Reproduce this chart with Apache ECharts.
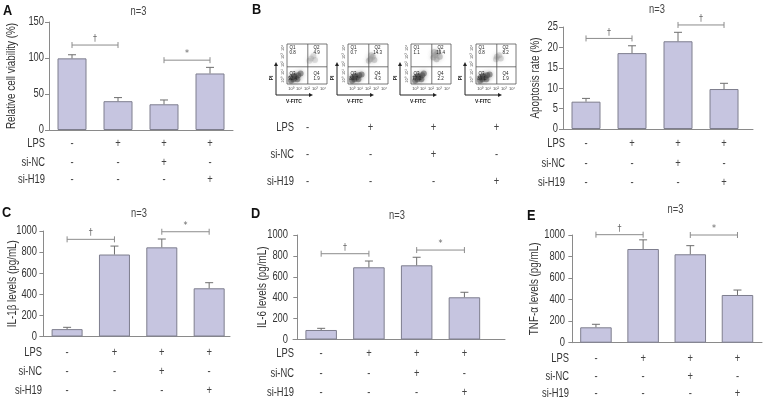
<!DOCTYPE html>
<html><head><meta charset="utf-8">
<script src="https://cdn.jsdelivr.net/npm/echarts@6/dist/echarts.min.js"></script>
<style>html,body{margin:0;padding:0;background:#fff}#c{width:764px;height:403px}</style>
</head><body><div id="c"></div>
<script>
// ---------- data ----------
const groups = ['Control', 'LPS', 'LPS+si-NC', 'LPS+si-H19'];
const rowNames = ['LPS', 'si-NC', 'si-H19'];
const lpsRow = ['-', '+', '+', '+'];
const siNCRow = ['-', '-', '+', '-'];
const siH19Row = ['-', '-', '-', '+'];

const viabilityMean = [99.5, 40, 35.7, 78.5];
const viabilitySD = [5, 5, 6, 8.5];
const apoptosisMean = [6.7, 18.6, 21.5, 9.8];
const apoptosisSD = [0.8, 1.8, 2.2, 1.4];
const il1bMean = [70, 777, 845, 457];
const il1bSD = [17, 80, 79, 53];
const il6Mean = [91, 691, 710, 404];
const il6SD = [16, 60, 77, 48];
const tnfMean = [143, 870, 821, 443];
const tnfSD = [28, 85, 80, 46];

// significance brackets: [group a, group b, height, mark]
const viabilitySig = [[0, 1, 118, '†'], [2, 3, 97, '*']];
const apoptosisSig = [[0, 1, 22.2, '†'], [2, 3, 25.5, '†']];
const il1bSig = [[0, 1, 921, '†'], [2, 3, 993, '*']];
const il6Sig = [[0, 1, 821, '†'], [2, 3, 856, '*']];
const tnfSig = [[0, 1, 1003, '†'], [2, 3, 1000, '*']];

// flow cytometry quadrant percentages [Q1, Q2, Q3, Q4]
const flowQuadrants = [[0.8, 4.9, 92.4, 1.9], [0.7, 14.3, 80.7, 4.3], [1.1, 19.4, 77.3, 2.2], [0.8, 8.2, 89.1, 1.9]];
// event clouds (log-decade coordinates)
const flowDense = [
  [[0.5,0.4],[0.8,0.6],[1.1,0.8],[1.4,1.1],[0.9,1.0],[1.3,0.6],[0.6,0.8],[1.7,1.3]],
  [[0.5,0.4],[0.8,0.6],[1.1,0.8],[1.4,1.1],[0.9,1.0],[1.3,0.6],[0.6,0.8],[1.7,1.2]],
  [[0.5,0.4],[0.8,0.6],[1.1,0.8],[1.4,1.1],[0.9,1.0],[1.3,0.6],[0.6,0.8],[1.6,1.3]],
  [[0.5,0.4],[0.8,0.6],[1.1,0.8],[1.4,1.1],[0.9,1.0],[1.3,0.6],[0.6,0.8],[1.7,1.2]]
];
const flowSpread = [
  [[3.0,3.2],[3.3,3.5],[2.8,2.9],[3.5,3.0]],
  [[2.8,3.1],[3.1,3.4],[2.6,2.9],[3.3,3.0],[2.9,3.6]],
  [[3.0,3.6],[3.3,3.9],[2.8,3.3],[3.6,3.4],[3.2,3.1],[2.9,4.0]],
  [[2.6,3.4],[2.9,3.6],[2.5,3.1],[3.1,3.2]]
];
const decadeLabels = ['10⁰', '10¹', '10²', '10³', '10⁴'];

// ---------- style / layout ----------
const FONT = "'Liberation Sans', Arial, sans-serif";
const SQ = 0.78;          // horizontal condensing of text
const FS = 12;
const TXT = '#333';
const AXIS = '#8a8a8a';
const BAR = '#c6c5e0';
const BAR_EDGE = '#7e7e8e';
const rows = [lpsRow, siNCRow, siH19Row];

function tx(x, y, text, o) {
  o = o || {};
  return { type: 'text', x: x, y: y, rotation: o.rot || 0, scaleX: o.sx || SQ, scaleY: 1,
    style: { text: text, fill: o.fill || TXT, fontSize: o.size || FS, fontWeight: o.weight || 'normal',
      fontFamily: o.family || FONT, align: o.align || 'center', verticalAlign: o.va || 'middle' } };
}

const panels = [
  { mean: viabilityMean, sd: viabilitySD, sig: viabilitySig, name: 'Relative cell viability (%)',
    grid: { left: 49, top: 22, width: 184, height: 108 }, xMin: 0, xMax: 4, yMax: 150, interval: 50,
    nameDx: 37.5, barWidth: 29, rowOff: [14, 33, 49.5], labelDx: -4 },
  { mean: apoptosisMean, sd: apoptosisSD, sig: apoptosisSig, name: 'Apoptosis rate (%)',
    grid: { left: 563, top: 27, width: 190, height: 102 }, xMin: 0, xMax: 4.13, yMax: 25, interval: 5,
    nameDx: 27, barWidth: 29, rowOff: [15, 35, 54], labelDx: 2 },
  { mean: il1bMean, sd: il1bSD, sig: il1bSig, name: 'IL-1β levels (pg/mL)',
    grid: { left: 42, top: 231, width: 188, height: 105.5 }, xMin: -0.03, xMax: 3.94, yMax: 1000, interval: 200,
    nameDx: 29, barWidth: 31, rowOff: [16.5, 35.5, 54.5], labelDx: 0 },
  { mean: il6Mean, sd: il6SD, sig: il6Sig, name: 'IL-6 levels (pg/mL)',
    grid: { left: 293, top: 235, width: 212, height: 104.5 }, xMin: -0.09, xMax: 4.35, yMax: 1000, interval: 200,
    nameDx: 30, barWidth: 31.5, rowOff: [14.5, 34.5, 53.5], labelDx: 1 },
  { mean: tnfMean, sd: tnfSD, sig: tnfSig, name: 'TNF-α levels (pg/mL)',
    grid: { left: 570, top: 235, width: 192, height: 107.7 }, xMin: -0.05, xMax: 4.02, yMax: 1000, interval: 200,
    nameDx: 35, barWidth: 31.5, rowOff: [16.3, 34.3, 51.3], labelDx: -1 }
];
const flowLefts = [287, 348, 411, 476];

const grids = [], xAxes = [], yAxes = [], series = [];

function condSeries(gi, xMin, rowOff, labelDx, cfg) {
  return {
    type: 'custom', xAxisIndex: gi, yAxisIndex: gi, clip: false, silent: true, z: 5,
    data: groups.map((g, i) => [i + 0.5, 0]),
    renderItem: function (params, api) {
      const p = api.coord([api.value(0), api.value(1)]);
      const children = [];
      const i = params.dataIndex;
      rows.forEach((r, k) => children.push(tx(p[0], p[1] + rowOff[k], r[i], { fill: '#444' })));
      if (i === 0) {
        const ax = api.coord([xMin, 0])[0];
        rowNames.forEach((n, k) => children.push(tx(ax + labelDx, p[1] + rowOff[k], n, { align: 'right' })));
        if (cfg) {
          for (let v = 0; v <= cfg.yMax + 1e-9; v += cfg.interval) {
            const q = api.coord([xMin, v]);
            children.push(tx(q[0] - 5, q[1], String(v), { align: 'right' }));
          }
          const top = api.coord([xMin, cfg.yMax])[1];
          children.push(tx(ax - cfg.nameDx, (top + p[1]) / 2, cfg.name, { rot: Math.PI / 2, sx: 0.82 }));
        }
      }
      return { type: 'group', children };
    }
  };
}

panels.forEach((cfg, gi) => {
  grids.push(Object.assign({ containLabel: false }, cfg.grid));
  xAxes.push({ type: 'value', gridIndex: gi, min: cfg.xMin, max: cfg.xMax,
    axisLine: { show: true, lineStyle: { color: AXIS, width: 1 } }, axisTick: { show: false },
    axisLabel: { show: false }, splitLine: { show: false } });
  yAxes.push({ type: 'value', gridIndex: gi, min: 0, max: cfg.yMax, interval: cfg.interval,
    axisLine: { show: true, lineStyle: { color: AXIS, width: 1 } },
    axisTick: { show: true, length: 4, lineStyle: { color: AXIS } },
    axisLabel: { show: false },
    splitLine: { show: false } });
  series.push({ type: 'bar', xAxisIndex: gi, yAxisIndex: gi, barWidth: cfg.barWidth, silent: true,
    data: cfg.mean.map((v, i) => [i + 0.5, v]),
    itemStyle: { color: BAR, borderColor: BAR_EDGE, borderWidth: 1 } });
  series.push({ type: 'custom', xAxisIndex: gi, yAxisIndex: gi, clip: false, silent: true, z: 4,
    data: cfg.mean.map((v, i) => [i + 0.5, v, cfg.sd[i]]),
    renderItem: function (params, api) {
      const x = api.value(0), m = api.value(1), s = api.value(2);
      const a = api.coord([x, m]), b = api.coord([x, m + s]);
      const st = { stroke: '#6e6e6e', lineWidth: 1 };
      return { type: 'group', children: [
        { type: 'line', shape: { x1: a[0], y1: a[1], x2: b[0], y2: b[1] }, style: st },
        { type: 'line', shape: { x1: b[0] - 4, y1: b[1], x2: b[0] + 4, y2: b[1] }, style: st }
      ] };
    } });
  const sig = cfg.sig;
  series.push({ type: 'custom', xAxisIndex: gi, yAxisIndex: gi, clip: false, silent: true, z: 4,
    data: sig.map(s => [s[0] + 0.5, s[2], s[1] + 0.5]),
    encode: { x: [0, 2], y: 1 },
    renderItem: function (params, api) {
      const a = api.coord([api.value(0), api.value(1)]);
      const b = api.coord([api.value(2), api.value(1)]);
      const st = { stroke: '#8c8c8c', lineWidth: 1 };
      return { type: 'group', children: [
        { type: 'line', shape: { x1: a[0], y1: a[1], x2: b[0], y2: b[1] }, style: st },
        { type: 'line', shape: { x1: a[0], y1: a[1] - 3, x2: a[0], y2: a[1] + 3 }, style: st },
        { type: 'line', shape: { x1: b[0], y1: b[1] - 3, x2: b[0], y2: b[1] + 3 }, style: st },
        tx((a[0] + b[0]) / 2, a[1] - 6, sig[params.dataIndex][3], { fill: '#666', size: 8, family: 'DejaVu Sans', sx: 1 })
      ] };
    } });
  series.push(condSeries(gi, cfg.xMin, cfg.rowOff, cfg.labelDx, cfg));
});

// hidden grid for the condition rows under the flow plots (grid 5)
grids.push({ left: 276, top: 100, width: 252, height: 10 });
xAxes.push({ type: 'value', gridIndex: 5, min: 0, max: 4, show: false });
yAxes.push({ type: 'value', gridIndex: 5, min: 0, max: 1, show: false });
series.push(condSeries(5, 0, [18, 45, 72], 18, null));

// flow cytometry plots (grids 6..9)
flowLefts.forEach((left, k) => {
  const gi = 6 + k;
  grids.push({ left: left, top: 44, width: 40, height: 40, show: true, borderColor: '#555', borderWidth: 0.8, backgroundColor: '#fff' });
  xAxes.push({ type: 'value', gridIndex: gi, min: 0, max: 5, show: false });
  yAxes.push({ type: 'value', gridIndex: gi, min: 0, max: 5, show: false });
  series.push({ type: 'scatter', xAxisIndex: gi, yAxisIndex: gi, silent: true, symbolSize: 6,
    data: flowSpread[k],
    itemStyle: { color: 'rgba(150,150,150,' + (0.25 + flowQuadrants[k][1] / 60) + ')', shadowBlur: 4, shadowColor: 'rgba(120,120,120,0.5)' } });
  series.push({ type: 'scatter', xAxisIndex: gi, yAxisIndex: gi, silent: true, symbolSize: 6,
    data: flowDense[k],
    itemStyle: { color: 'rgba(70,70,70,0.6)', shadowBlur: 4, shadowColor: 'rgba(60,60,60,0.6)' } });
  const q = flowQuadrants[k];
  series.push({ type: 'custom', xAxisIndex: gi, yAxisIndex: gi, clip: false, silent: true, z: 6,
    data: [[0, 0]],
    renderItem: function (params, api) {
      const c = (x, y) => api.coord([x, y]);
      const ch = [];
      const ln = { stroke: '#555', lineWidth: 0.8 };
      const v1 = c(2.6, 0), v2 = c(2.6, 5), h1 = c(0, 2.15), h2 = c(5, 2.15);
      ch.push({ type: 'line', shape: { x1: v1[0], y1: v1[1], x2: v2[0], y2: v2[1] }, style: ln });
      ch.push({ type: 'line', shape: { x1: h1[0], y1: h1[1], x2: h2[0], y2: h2[1] }, style: ln });
      const qt = (x, y, t) => { const p = c(x, y); ch.push(tx(p[0], p[1], t, { size: 4.5, fill: '#222', sx: 1 })); };
      qt(0.7, 4.55, 'Q1'); qt(0.7, 3.95, String(q[0]));
      qt(3.7, 4.55, 'Q2'); qt(3.7, 3.95, String(q[1]));
      qt(0.7, 1.25, 'Q3'); qt(0.7, 0.7, String(q[2]));
      qt(3.7, 1.25, 'Q4'); qt(3.7, 0.7, String(q[3]));
      const o = c(0, 0);
      decadeLabels.forEach((t, d) => {
        const px = c(d + 0.5, 0), py = c(0, d + 0.5);
        ch.push(tx(px[0], o[1] + 4.5, t, { size: 4, fill: '#444', sx: 1 }));
        ch.push(tx(o[0] - 4, py[1], t, { size: 4, fill: '#444', sx: 1, rot: Math.PI / 2 }));
      });
      // axis arrows
      const ax = o[0] - 11, ay = o[1] + 11;
      const ar = { stroke: '#222', lineWidth: 1 };
      ch.push({ type: 'line', shape: { x1: ax, y1: ay, x2: ax, y2: ay - 30 }, style: ar });
      ch.push({ type: 'polygon', shape: { points: [[ax - 2, ay - 29], [ax + 2, ay - 29], [ax, ay - 33]] }, style: { fill: '#222' } });
      ch.push({ type: 'line', shape: { x1: ax, y1: ay, x2: ax + 34, y2: ay }, style: ar });
      ch.push({ type: 'polygon', shape: { points: [[ax + 33, ay - 2], [ax + 33, ay + 2], [ax + 37, ay]] }, style: { fill: '#222' } });
      ch.push(tx(ax - 4, o[1] - 6, 'PI', { size: 5, weight: 'bold', fill: '#222', sx: 1, rot: Math.PI / 2 }));
      ch.push(tx(o[0] + 7, ay + 7, 'V-FITC', { size: 5, weight: 'bold', fill: '#222', sx: 1 }));
      return { type: 'group', children: ch };
    } });
});

const letter = (t, x, y) => tx(x, y, t, { size: 15, weight: 'bold', fill: '#111', align: 'left', sx: 0.85 });
const nText = (x, y) => tx(x, y, 'n=3', { fill: '#444' });

const chart = echarts.init(document.getElementById('c'), null, { renderer: 'canvas' });
chart.setOption({
  backgroundColor: '#fff',
  animation: false,
  grid: grids, xAxis: xAxes, yAxis: yAxes, series: series,
  graphic: [
    letter('A', 3, 11), letter('B', 252, 10), letter('C', 2, 212.5), letter('D', 251, 214), letter('E', 527, 215.5),
    nText(138.5, 11.5), nText(657, 10), nText(139, 214), nText(397, 216), nText(675.5, 209.5)
  ]
});
</script></body></html>
